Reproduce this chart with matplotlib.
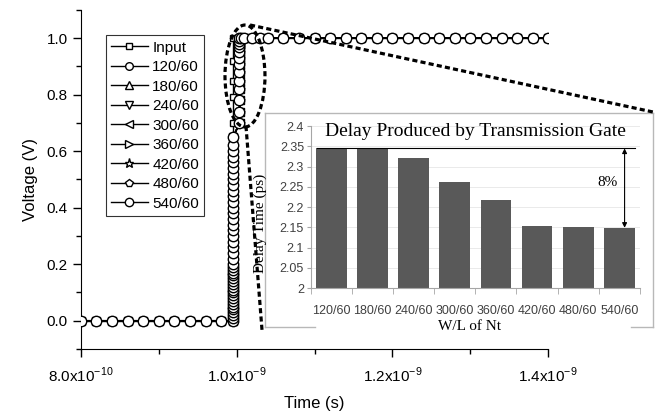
import numpy as np
import matplotlib
matplotlib.use('Agg')
import matplotlib.pyplot as plt
from matplotlib.lines import Line2D
from matplotlib.patches import Ellipse
from matplotlib.ticker import MultipleLocator, FixedLocator, FuncFormatter

plt.rcParams['font.family'] = ['Liberation Sans', 'DejaVu Sans']
plt.rcParams['mathtext.fontset'] = 'custom'
plt.rcParams['mathtext.rm'] = 'Liberation Sans'

# ---- main plot data (time in ns, voltage in V) ----
series = ['Input', '120/60', '180/60', '240/60', '300/60', '360/60', '420/60', '480/60', '540/60']
markers = ['s', 'o', '^', 'v', '<', '>', '*', 'p', 'o']

t_low = [0.80, 0.82, 0.84, 0.86, 0.88, 0.90, 0.92, 0.94, 0.96, 0.98]
t_high = [1.005, 1.01, 1.02, 1.03, 1.04, 1.06, 1.08, 1.10, 1.12, 1.14, 1.16, 1.18,
          1.20, 1.22, 1.24, 1.26, 1.28, 1.30, 1.32, 1.34, 1.36, 1.38, 1.40]

# input edge
t_in_edge = 0.9952
v_in_edge = [0.0, 0.1, 0.2, 0.3, 0.4, 0.5, 0.6, 0.7, 0.79, 0.85, 0.92, 1.0]

# output edge: lower part then upper part of the transition
t_out_edge_lo = 0.9957
v_out_edge_lo = [0.00, 0.01, 0.02, 0.03, 0.04, 0.05, 0.06, 0.07, 0.08, 0.09, 0.10,
                 0.11, 0.12, 0.13, 0.14, 0.15, 0.16, 0.17, 0.18, 0.19, 0.20, 0.22,
                 0.24, 0.26, 0.28, 0.30, 0.32, 0.34, 0.36, 0.38, 0.40, 0.42, 0.44,
                 0.46, 0.48, 0.50, 0.52, 0.54, 0.56, 0.58, 0.60, 0.62, 0.65]
t_out_edge_hi = 1.0038
v_out_edge_hi = [0.70, 0.74, 0.78, 0.82, 0.85, 0.88, 0.91, 0.93, 0.95, 0.97, 0.98, 0.99, 1.0]

# ---- inset data ----
wl = ['120/60', '180/60', '240/60', '300/60', '360/60', '420/60', '480/60', '540/60']
delay_ps = [2.345, 2.346, 2.321, 2.263, 2.217, 2.154, 2.152, 2.149]

fig = plt.figure(figsize=(6.63, 4.11), dpi=100)
ax = fig.add_axes([0.122, 0.151, 0.705, 0.825])

for i, name in enumerate(series):
    if name == 'Input':
        t = t_low + [t_in_edge] * len(v_in_edge) + t_high[3:]
        v = [0.0] * len(t_low) + v_in_edge + [1.0] * len(t_high[3:])
        ms = 4.5
    else:
        shift = (delay_ps[i - 1] - delay_ps[0]) * 1e-3
        t = (t_low + [t_out_edge_lo + shift] * len(v_out_edge_lo)
             + [t_out_edge_hi + shift] * len(v_out_edge_hi) + t_high)
        v = [0.0] * len(t_low) + v_out_edge_lo + v_out_edge_hi + [1.0] * len(t_high)
        ms = 7.5 if name == '540/60' else 5.5
        if markers[i] == '*':
            ms = 6.5
    ax.plot(np.array(t) * 1e-9, v, color='black', lw=1, marker=markers[i], ms=ms,
            mfc='white', mec='black', mew=1.0, label=name, zorder=2 + i)

ax.set_xlim(0.8e-9, 1.4e-9)
ax.set_ylim(-0.1, 1.1)
ax.spines['top'].set_visible(False)
ax.spines['right'].set_visible(False)
ax.xaxis.set_major_locator(FixedLocator([0.8e-9, 1.0e-9, 1.2e-9, 1.4e-9]))
ax.set_xticklabels(['8.0x10$^{-10}$', '1.0x10$^{-9}$', '1.2x10$^{-9}$', '1.4x10$^{-9}$'])
ax.xaxis.set_minor_locator(FixedLocator([0.9e-9, 1.1e-9, 1.3e-9]))
ax.yaxis.set_major_locator(MultipleLocator(0.2))
ax.yaxis.set_minor_locator(MultipleLocator(0.1))
ax.yaxis.set_major_formatter(FuncFormatter(lambda y, p: f'{y:.1f}'))
ax.tick_params(which='major', length=6, width=1, labelsize=11)
ax.tick_params(which='minor', length=3.5, width=1)
ax.tick_params(axis='x', pad=6)
ax.set_xlabel('Time (s)', fontsize=12, labelpad=8)
ax.set_ylabel('Voltage (V)', fontsize=12, labelpad=6)

leg = ax.legend(loc='upper left', bbox_to_anchor=(0.053, 0.925), fontsize=11,
                frameon=True, fancybox=False, edgecolor='black', handlelength=2.4,
                handletextpad=0.3, labelspacing=0.36, borderpad=0.35, borderaxespad=0)
leg.get_frame().set_linewidth(0.8)
leg.legend_handles[-1].set_markersize(6)

# ---- inset frame ----
fx0, fx1, fy0, fy1 = 0.3997, 0.9849, 0.2044, 0.7251
frame_kw = dict(color='#b8b8b8', lw=1, transform=fig.transFigure, zorder=2)
fig.add_artist(Line2D([fx0, fx1], [fy1, fy1], **frame_kw))
fig.add_artist(Line2D([fx0, fx0], [fy0, fy1], **frame_kw))
fig.add_artist(Line2D([fx1, fx1], [fy0, fy1], **frame_kw))
fig.add_artist(Line2D([fx0, 0.4751], [fy0, fy0], **frame_kw))
fig.add_artist(Line2D([0.9517, fx1], [fy0, fy0], **frame_kw))

ax2 = fig.add_axes([0.469, 0.299, 0.496, 0.394], zorder=3)
ax2.patch.set_alpha(0)
x = np.arange(len(wl))
ax2.bar(x, np.array(delay_ps) - 2.0, bottom=2.0, width=0.75, color='#595959', zorder=2)
ax2.set_xlim(-0.5, 7.5)
ax2.set_ylim(2.0, 2.4)
ax2.yaxis.set_major_locator(MultipleLocator(0.05))
ax2.yaxis.set_major_formatter(FuncFormatter(lambda y, p: f'{y:g}'))
ax2.grid(axis='y', color='#e6e6e6', lw=0.6, zorder=0)
ax2.set_xticks(x)
ax2.set_xticklabels(wl)
ax2.xaxis.set_minor_locator(FixedLocator(np.arange(-0.5, 8, 1.0)))
for s in ['top', 'right']:
    ax2.spines[s].set_visible(False)
for s in ['left', 'bottom']:
    ax2.spines[s].set_color('#a6a6a6')
ax2.tick_params(axis='x', which='major', length=0, labelsize=9, colors='#404040', pad=12)
ax2.tick_params(axis='x', which='minor', length=4, color='#a6a6a6')
ax2.tick_params(axis='y', length=3, color='#a6a6a6', labelsize=9, labelcolor='#404040', pad=2)
ax2.set_ylabel('Delay Time (ps)', family='Liberation Serif', fontsize=11)
ax2.yaxis.set_label_coords(-0.135, 0.40)
ax2.set_xlabel('W/L of Nt', family='Liberation Serif', fontsize=11)
ax2.xaxis.set_label_coords(0.483, -0.195)
ax2.text(3.5, 2.386, 'Delay Produced by Transmission Gate', family='Liberation Serif',
         fontsize=14, ha='center', va='center')

# 8% marker
ax2.plot([-0.35, 7.38], [delay_ps[0], delay_ps[0]], color='black', lw=0.8, zorder=3)
ax2.annotate('', xy=(7.13, delay_ps[-1]), xytext=(7.13, delay_ps[0]),
             arrowprops=dict(arrowstyle='<|-|>', color='black', lw=0.8,
                             mutation_scale=7, shrinkA=0, shrinkB=0))
ax2.text(6.72, 2.26, '8%', family='Liberation Serif', fontsize=11, ha='center', va='center')

# ---- zoom ellipse and dashed connectors ----
dash = dict(color='black', lw=2.3, linestyle=(0, (1.6, 1.0)), transform=fig.transFigure, zorder=5)
fig.add_artist(Ellipse((0.3695, 0.8151), 0.0603, 0.248, fill=False, **dash))
fig.add_artist(Line2D([0.3771, 0.9849], [0.9392, 0.7275], **dash))
fig.add_artist(Line2D([0.371, 0.3952], [0.6934, 0.197], **dash))

fig.savefig('out.png', dpi=100)
